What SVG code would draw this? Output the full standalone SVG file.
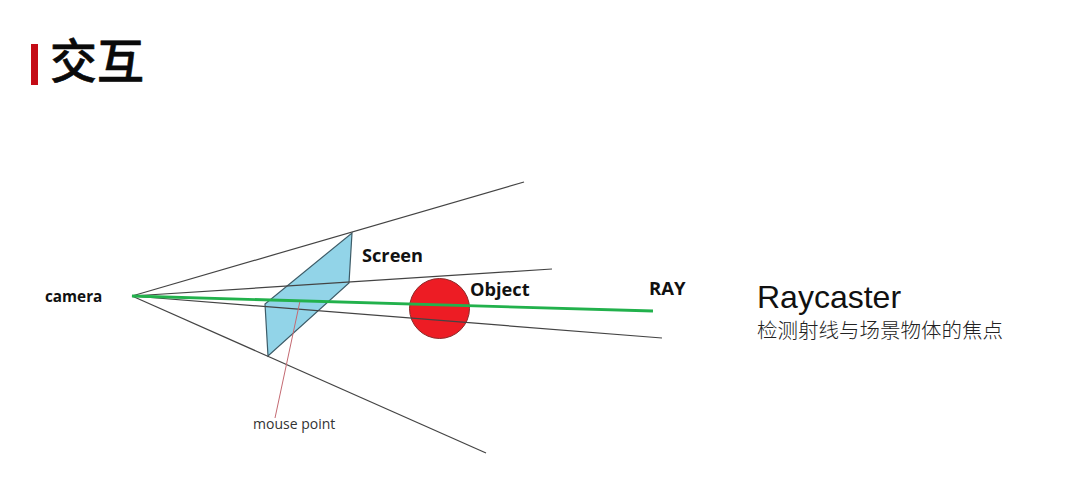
<svg xmlns="http://www.w3.org/2000/svg" width="1080" height="490" viewBox="0 0 1080 490">
<style>
.ln{stroke:#444;stroke-width:1.200;fill:none}
.lb{font-family:"Open Sans","Noto Sans",sans-serif;font-weight:700;fill:#111}
.cjk{font-family:"Noto Sans CJK SC",sans-serif}
</style>
<rect width="1080" height="490" fill="#fff"/>
<g id="title">
<rect x="31" y="44" width="7" height="41" fill="#c40c16"/>
<text class="cjk" x="50" y="78" font-size="47" font-weight="500" stroke="#0a0a0a" stroke-width="0.600" fill="#0a0a0a">交互</text>
</g>
<g id="screen">
<polygon points="352,233 349,283 268,356 265,304" fill="#92d4e8" stroke="#3e5c68" stroke-width="1.200"/>
</g>
<g id="object">
<circle cx="439.500" cy="308.500" r="30" fill="#ed1c24" stroke="#8a2a2a" stroke-width="1"/>
</g>
<g id="connectors">
<line class="ln" x1="132" y1="296" x2="524" y2="182"/>
<line class="ln" x1="132" y1="296" x2="552" y2="269"/>
<line class="ln" x1="132" y1="296" x2="662" y2="338"/>
<line class="ln" x1="132" y1="296" x2="486" y2="453"/>
<line x1="300" y1="301" x2="275" y2="418" stroke="#c46a72" stroke-width="1"/>
<line x1="132" y1="296" x2="653" y2="311" stroke="#22b14c" stroke-width="2.800"/>
</g>
<g id="camera"><text class="lb" x="45" y="302" font-size="15.300">camera</text></g>
<g id="screen-label"><text class="lb" x="362" y="262" font-size="18.200">Screen</text></g>
<g id="object-label"><text class="lb" x="470" y="296" font-size="18.200">Object</text></g>
<g id="ray-label"><text class="lb" x="649" y="295" font-size="18.500">RAY</text></g>
<g id="mouse-label"><text x="253" y="429" font-size="14" font-family="'Open Sans','Noto Sans',sans-serif" fill="#333">mouse point</text></g>
<g id="raycaster">
<text x="757" y="308" font-size="32" font-family="'Liberation Sans',Arial,sans-serif" fill="#111">Raycaster</text>
<text class="cjk" x="757" y="338" font-size="20.500" font-weight="300" fill="#222">检测射线与场景物体的焦点</text>
</g>
</svg>
